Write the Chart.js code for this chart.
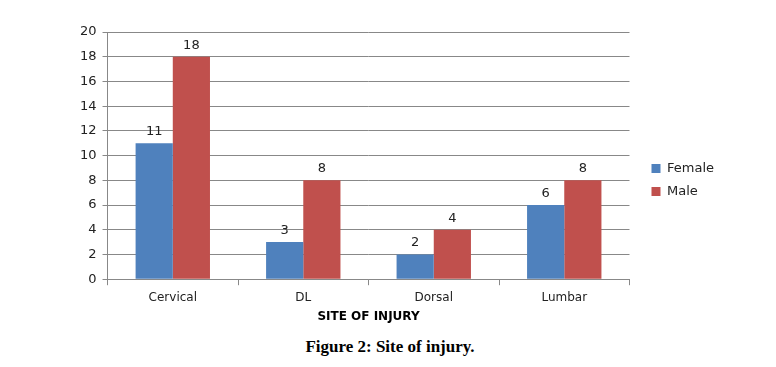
<!DOCTYPE html>
<html lang="en">
  <head>
    <meta charset="UTF-8" />
    <title>Site of injury</title>
    <script src="https://cdn.jsdelivr.net/npm/chart.js@4.4.0/dist/chart.umd.min.js"></script>
    <style>
      body { margin: 0; background: #fff; }
      #wrap { position: relative; width: 776px; height: 324px; }
      #caption {
        text-align: center;
        font: bold 17px 'Liberation Serif', serif;
        color: #000;
        margin-top: 13px;
        padding-left: 4px;
      }
    </style>
  </head>
  <body>
    <div id="wrap"><canvas id="myChart"></canvas></div>
    <div id="caption">Figure 2: Site of injury.</div>

    <script>
      const sites = ['Cervical', 'DL', 'Dorsal', 'Lumbar']
      const female = [11, 3, 2, 6]
      const male = [18, 8, 4, 8]

      // draw the number above every bar
      const valueLabels = {
        id: 'valueLabels',
        afterDatasetsDraw(chart) {
          const ctx = chart.ctx
          ctx.save()
          ctx.font = '13px "DejaVu Sans"'
          ctx.fillStyle = '#222'
          ctx.textAlign = 'center'
          ctx.textBaseline = 'bottom'
          chart.data.datasets.forEach((ds, i) => {
            chart.getDatasetMeta(i).data.forEach((bar, j) => {
              ctx.fillText(ds.data[j], bar.x, bar.y - 5)
            })
          })
          ctx.restore()
        },
      }

      // push the legend a bit away from the plot, like the original
      const legendShift = {
        id: 'legendShift',
        afterLayout(chart) {
          const lg = chart.legend
          lg.left += 12
          lg.right += 12
          lg.top += 2
          lg.bottom += 2
        },
      }

      new Chart('myChart', {
        type: 'bar',
        data: {
          labels: sites,
          datasets: [
            { label: 'Female', data: female, backgroundColor: '#4f81bd', categoryPercentage: 0.57, barPercentage: 1 },
            { label: 'Male', data: male, backgroundColor: '#c0504d', categoryPercentage: 0.57, barPercentage: 1 },
          ],
        },
        options: {
          responsive: true,
          maintainAspectRatio: false,
          animation: false,
          layout: { padding: { top: 32, right: 64, left: 74 } },
          plugins: {
            legend: {
              position: 'right',
              labels: {
                boxWidth: 9,
                boxHeight: 9,
                padding: 10,
                color: '#222',
                font: { family: 'DejaVu Sans', size: 13 },
              },
            },
            tooltip: { enabled: false },
          },
          scales: {
            x: {
              grid: { display: true, drawOnChartArea: false, offset: true, tickLength: 6, color: '#888' },
              border: { color: '#888' },
              ticks: { color: '#222', font: { family: 'DejaVu Sans', size: 12 }, padding: 5 },
              title: {
                display: true,
                text: 'SITE OF INJURY',
                color: '#000',
                font: { family: 'DejaVu Sans', size: 12, weight: 'bold' },
                padding: { top: 0, bottom: 0 },
              },
            },
            y: {
              min: 0,
              max: 20,
              ticks: { stepSize: 2, color: '#222', font: { family: 'DejaVu Sans', size: 13 }, padding: 6 },
              grid: { color: '#888', tickLength: 5 },
              border: { color: '#888' },
            },
          },
        },
        plugins: [valueLabels, legendShift],
      })
    </script>
  </body>
</html>
